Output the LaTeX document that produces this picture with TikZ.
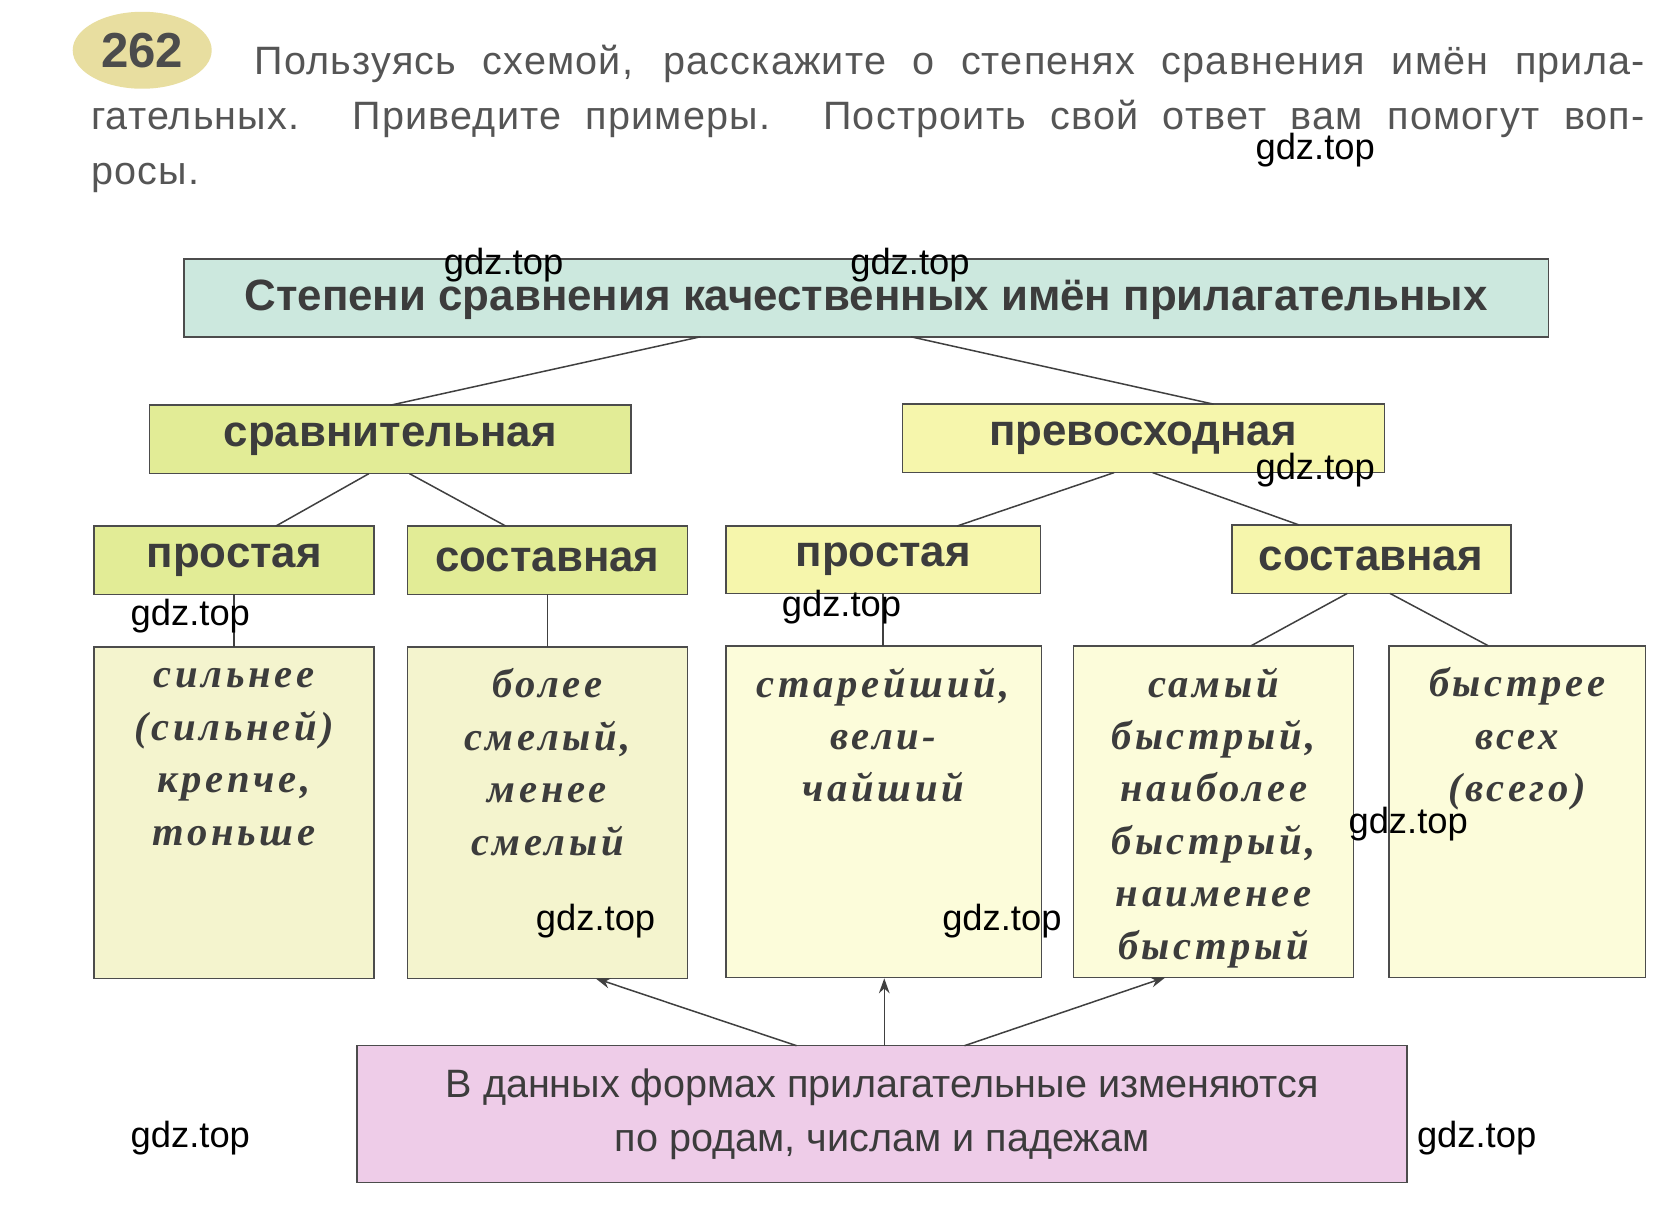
\documentclass[tikz,border=0pt]{standalone}
\usepackage{fontspec}
\setmainfont{Liberation Serif}
\setsansfont{Liberation Sans}
\newfontfamily\exfont[LetterSpace=9]{Liberation Serif}
\newfontfamily\tkfont[LetterSpace=3]{Liberation Sans}
\usetikzlibrary{arrows.meta,shapes.geometric}
\definecolor{teal1}{RGB}{204,232,222}
\definecolor{ygreen}{RGB}{226,236,150}
\definecolor{pyel}{RGB}{246,246,172}
\definecolor{exg}{RGB}{244,244,206}
\definecolor{exy}{RGB}{252,252,218}
\definecolor{pinkb}{RGB}{238,204,232}
\definecolor{txt}{RGB}{85,85,85}
\definecolor{hdr}{RGB}{60,60,60}
\definecolor{badge}{RGB}{232,222,160}
\tikzset{
  bx/.style={draw=black!70,line width=1.4pt,inner sep=0pt},
  hd/.style={font=\sffamily\bfseries\fontsize{41}{44}\selectfont,text=hdr},
  ex/.style={font=\exfont\bfseries\itshape\fontsize{38}{49}\selectfont,text=hdr,align=center},
  ln/.style={draw=black!75,line width=1.4pt},
  ar/.style={ln,-{Stealth[length=14pt,width=10pt]}},
  wm/.style={font=\sffamily\fontsize{34}{40}\selectfont,text=black},
  tk/.style={font=\tkfont\fontsize{37}{40}\selectfont,text=txt,anchor=base west,inner sep=0pt}
}
\begin{document}
\begin{tikzpicture}[x=1pt,y=-1pt]
\useasboundingbox[fill=white] (0,0) rectangle (1560,1140);
% badge and task
\node[ellipse,fill=badge,minimum width=130pt,minimum height=72pt,inner sep=0pt,font=\sffamily\bfseries\fontsize{46}{50}\selectfont,text=black!70] (badge) at (133,47) {262};
\node[tk] (t1) at (238,70) {\makebox[1300pt][s]{Пользуясь схемой, расскажите о степенях сравнения имён прила-}};
\node[tk] (t2) at (85,121) {\makebox[1453pt][s]{гательных. Приведите примеры. Построить свой ответ вам помогут воп-}};
\node[tk] (t3) at (85,173) {росы.};
% boxes
\path[bx,fill=teal1] (172,242) rectangle (1448,315);
\node[hd] (title) at (810,280) {Степени сравнения качественных имён прилагательных};
\path[bx,fill=ygreen] (140,379) rectangle (590,443);
\node[hd] (cmp) at (365,411) {сравнительная};
\path[bx,fill=pyel] (844,378) rectangle (1295,442);
\node[hd] (sup) at (1069,410) {превосходная};
\path[bx,fill=ygreen] (88,492) rectangle (350,556);
\node[hd] (p1) at (219,524) {простая};
\path[bx,fill=ygreen] (381,492) rectangle (643,556);
\node[hd] (s1) at (512,524) {составная};
\path[bx,fill=pyel] (679,492) rectangle (973,555);
\node[hd] (p2) at (826,523) {простая};
\path[bx,fill=pyel] (1152,491) rectangle (1413,555);
\node[hd] (s2) at (1282,523) {составная};
% example boxes
\path[bx,fill=exg] (88,605) rectangle (350,915);
\node[ex,anchor=north] (e1) at (219,622) {сильнее\\(сильней)\\крепче,\\тоньше};
\path[bx,fill=exg] (381,605) rectangle (643,915);
\node[ex,anchor=north] (e2) at (512,622) {более\\смелый,\\менее\\смелый};
\path[bx,fill=exy] (679,604) rectangle (974,914);
\node[ex,anchor=north] (e3) at (826,621) {старейший,\\вели-\\чайший};
\path[bx,fill=exy] (1004,604) rectangle (1266,914);
\node[ex,anchor=north] (e4) at (1135,621) {самый\\быстрый,\\наиболее\\быстрый,\\наименее\\быстрый};
\path[bx,fill=exy] (1299,604) rectangle (1539,914);
\node[ex,anchor=north] (e5) at (1419,621) {быстрее\\всех\\(всего)};
\path[bx,fill=pinkb] (334,978) rectangle (1316,1106);
\node[font=\sffamily\fontsize{37}{50}\selectfont,text=hdr,align=center] (bot) at (825,1042) {В данных формах прилагательные изменяются\\по родам, числам и падежам};
% connectors
\coordinate (a1) at (655,315); \coordinate (a2) at (365,379);
\coordinate (b1) at (852,315); \coordinate (b2) at (1135,378);
\draw[ln] (a1) -- (a2); \draw[ln] (b1) -- (b2);
\coordinate (c1) at (345,443); \coordinate (c2) at (258,492);
\coordinate (c3) at (383,443); \coordinate (c4) at (473,492);
\draw[ln] (c1) -- (c2); \draw[ln] (c3) -- (c4);
\coordinate (d1) at (1042,442); \coordinate (d2) at (895,492);
\coordinate (d3) at (1078,442); \coordinate (d4) at (1215,491);
\draw[ln] (d1) -- (d2); \draw[ln] (d3) -- (d4);
\coordinate (f1) at (219,556); \coordinate (f2) at (219,605);
\coordinate (g1) at (512,556); \coordinate (g2) at (512,605);
\coordinate (h1) at (826,555); \coordinate (h2) at (826,604);
\draw[ln] (f1) -- (f2); \draw[ln] (g1) -- (g2); \draw[ln] (h1) -- (h2);
\coordinate (i1) at (1260,555); \coordinate (i2) at (1170,604);
\coordinate (i3) at (1300,555); \coordinate (i4) at (1392,604);
\draw[ln] (i1) -- (i2); \draw[ln] (i3) -- (i4);
\coordinate (j1) at (745,978); \coordinate (j2) at (557,915);
\coordinate (k1) at (827,978); \coordinate (k2) at (827,915);
\coordinate (l1) at (902,978); \coordinate (l2) at (1090,914);
\draw[ar] (j1) -- (j2); \draw[ar] (k1) -- (k2); \draw[ar] (l1) -- (l2);
% watermarks
\node[wm] (w1) at (1230,140) {gdz.top};
\node[wm] (w2) at (471,248) {gdz.top};
\node[wm] (w3) at (851,248) {gdz.top};
\node[wm] (w4) at (1230,440) {gdz.top};
\node[wm] (w5) at (178,576) {gdz.top};
\node[wm] (w6) at (787,568) {gdz.top};
\node[wm] (w7) at (1317,771) {gdz.top};
\node[wm] (w8) at (557,861) {gdz.top};
\node[wm] (w9) at (937,861) {gdz.top};
\node[wm] (w10) at (178,1064) {gdz.top};
\node[wm] (w11) at (1381,1064) {gdz.top};
\end{tikzpicture}
\end{document}
